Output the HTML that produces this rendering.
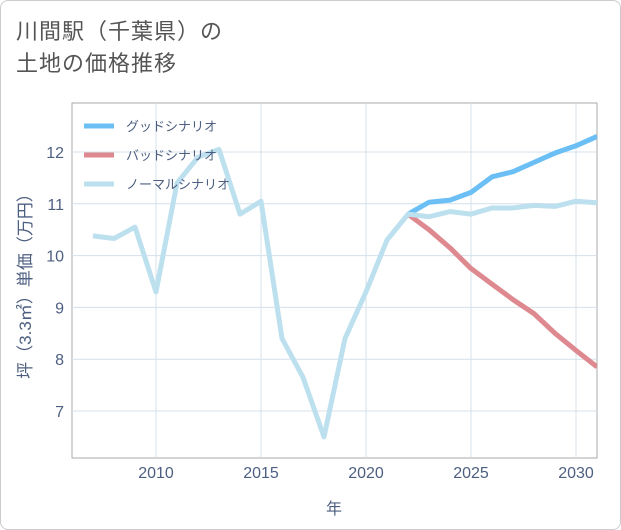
<!DOCTYPE html>
<html><head><meta charset="utf-8"><style>
body{margin:0;background:#fff;font-family:"Liberation Sans","Noto Sans CJK JP",sans-serif;}
.card{position:absolute;left:0;top:0;width:619px;height:528px;border:1px solid #ccc;border-radius:8px;background:#fff;}
.title{position:absolute;left:16px;top:16px;font-size:22px;line-height:32px;color:#555;letter-spacing:1px;}
svg{position:absolute;left:0;top:0;}
</style></head><body>
<div class="card"></div>
<div class="title">川間駅（千葉県）の<br>土地の価格推移</div>
<svg width="621" height="530" id="chart"></svg>
<script>
const years=[2007,2008,2009,2010,2011,2012,2013,2014,2015,2016,2017,2018,2019,2020,2021,2022,2023,2024,2025,2026,2027,2028,2029,2030,2031];
const normalVals=[10.38,10.33,10.55,9.3,11.4,11.9,12.05,10.8,11.05,8.4,7.65,6.5,8.4,9.3,10.3,10.8,10.75,10.85,10.8,10.92,10.92,10.97,10.95,11.05,11.02];
const futureYears=[2022,2023,2024,2025,2026,2027,2028,2029,2030,2031];
const goodVals=[10.8,11.03,11.07,11.22,11.52,11.62,11.8,11.98,12.12,12.3];
const badVals=[10.8,10.5,10.15,9.75,9.45,9.15,8.88,8.5,8.17,7.85];
const xTicks=[2010,2015,2020,2025,2030];
const yTicks=[7,8,9,10,11,12];
const legendLabels=["グッドシナリオ","バッドシナリオ","ノーマルシナリオ"];
const NS="http://www.w3.org/2000/svg";
const svg=document.getElementById('chart');
const L=72,R=597,T=103,B=458;
const AX='#4d5f80';
const x=y=>156+(y-2010)*21;
const yS=v=>152+(12-v)*51.8;
function mk(t,a){const e=document.createElementNS(NS,t);for(const k in a)e.setAttribute(k,a[k]);svg.appendChild(e);return e;}
let e=mk('rect',{x:L,y:T,width:R-L,height:B-T,fill:'none',stroke:'#aaa','stroke-width':1});


xTicks.forEach(t=>{
 let g=mk('line',{x1:x(t),x2:x(t),y1:T,y2:B,stroke:'#d6e1ea'});
 
 
 let tx=mk('text',{x:x(t),y:478,'text-anchor':'middle','font-size':16,fill:AX});
 tx.textContent=t;
 
 
});
yTicks.forEach(t=>{
 let g=mk('line',{x1:L,x2:R,y1:yS(t),y2:yS(t),stroke:'#d6e1ea'});
 
 
 let tx=mk('text',{x:64,y:yS(t)+6,'text-anchor':'end','font-size':16,fill:AX});
 tx.textContent=t;
 
 
});
let xt=mk('text',{x:334,y:514,'text-anchor':'middle','font-size':16,fill:AX});
xt.textContent='年';


let yt=mk('text',{x:0,y:0,'text-anchor':'middle','font-size':17,fill:AX,transform:'translate(31,282) rotate(-90)'});
yt.textContent='坪（3.3㎡）単価（万円）';


const cp='clp';
const defs=mk('defs',{});const clip=document.createElementNS(NS,'clipPath');clip.setAttribute('id',cp);
const cr=document.createElementNS(NS,'rect');cr.setAttribute('x',L);cr.setAttribute('y',T);cr.setAttribute('width',R-L);cr.setAttribute('height',B-T);clip.appendChild(cr);defs.appendChild(clip);
function line(xs,vs,col,name){
 const d=xs.map((yr,i)=>(i?'L':'M')+x(yr)+','+yS(vs[i])).join(' ');
 const p=mk('path',{d,fill:'none',stroke:col,'stroke-width':5,'stroke-linejoin':'round','clip-path':'url(#'+cp+')'});
 
 
}
line(futureYears,goodVals,'#6bbff5','good-scenario-line');
line(futureYears,badVals,'#de8890','bad-scenario-line');
line(years,normalVals,'#bde0ef','normal-scenario-line');
const cols=['#6bbff5','#de8890','#bde0ef'];
legendLabels.forEach((lb,i)=>{
 const yy=126+i*29;
 let l=mk('line',{x1:84,x2:114,y1:yy,y2:yy,stroke:cols[i],'stroke-width':5});
 
 
 let t=mk('text',{x:126,y:yy+5,'font-size':13,fill:AX});
 t.textContent=lb;
 
 
});
</script>
</body></html>
